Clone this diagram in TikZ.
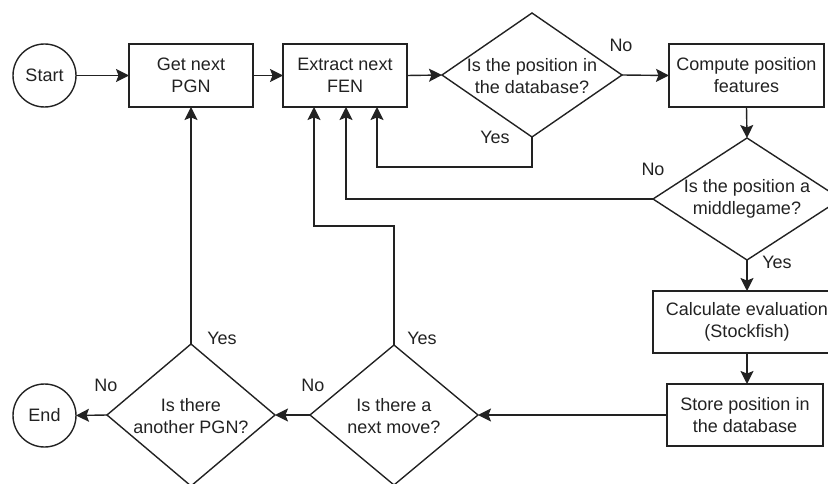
\documentclass[tikz,border=0pt]{standalone}
\usepackage{fontspec}
\setmainfont{Liberation Sans}
\usetikzlibrary{shapes.geometric,arrows.meta}
\definecolor{ink}{HTML}{222222}
\tikzset{
  base/.style={draw=ink, line width=1.4pt, outer sep=0pt, inner sep=0pt, text=ink,
    font=\fontsize{18}{22}\selectfont, align=center},
  proc/.style={base, rectangle, minimum height=63pt},
  term/.style={base, circle, minimum size=63pt},
  decide/.style={base, diamond},
  caption/.style={text=ink, font=\fontsize{18}{22}\selectfont, align=center, inner sep=0pt},
  flow/.style={draw=ink, line width=1.4pt, -{Stealth[length=13pt, width=13pt, inset=2.5pt]}}
}
\begin{document}
\begin{tikzpicture}[x=1pt, y=-1pt]
  \useasboundingbox (0,0) rectangle (828,484);
  \clip (0,0) rectangle (828,484);

  % terminals
  \node[term] (start) at (44.5,75.5) {Start};
  \node[term] (end) at (44.5,415.5) {End};

  % process boxes
  \node[proc, minimum width=124pt] (pgn) at (191,75.5) {Get next\\PGN};
  \node[proc, minimum width=124pt] (fen) at (345,75.5) {Extract next\\FEN};
  \node[proc, minimum width=155pt] (feat) at (746.5,75.5) {Compute position\\features};
  \node[proc, minimum width=188pt, minimum height=62pt] (calc) at (747,322) {Calculate evaluation\\(Stockfish)};
  \node[proc, minimum width=156pt, minimum height=62pt] (store) at (745,415) {Store position in\\the database};

  % decisions
  \node[decide, minimum width=180pt, minimum height=124pt] (indb) at (532,75) {};
  \node[caption] (indbt) at (532,76) {Is the position in\\the database?};
  \node[decide, minimum width=188pt, minimum height=122pt] (mid) at (747,199) {};
  \node[caption] (midt) at (747,199) {Is the position a\\middlegame?};
  \node[decide, minimum width=168pt, minimum height=140pt] (move) at (394,415) {};
  \node[caption] (movet) at (394,416) {Is there a\\next move?};
  \node[decide, minimum width=168pt, minimum height=142pt] (another) at (191,415) {};
  \node[caption] (anothert) at (191,416) {Is there\\another PGN?};

  % branch labels
  \node[caption] (noA) at (621,45) {No};
  \node[caption] (yesA) at (495,137) {Yes};
  \node[caption] (noB) at (653,169) {No};
  \node[caption] (yesB) at (777,262) {Yes};
  \node[caption] (yesC) at (422,338) {Yes};
  \node[caption] (noC) at (313,385) {No};
  \node[caption] (yesD) at (222,338) {Yes};
  \node[caption] (noD) at (106,385) {No};

  % main flow
  \draw[flow] (start.east) -- (pgn.west);
  \draw[flow] (pgn.east) -- (fen.west);
  \draw[flow] (fen.east) -- (indb.west);
  \draw[flow] (indb.east) -- (feat.west);
  \draw[flow] (feat.south) -- (mid.north);
  \draw[flow] (mid.south) -- (calc.north);
  \draw[flow] (calc.south) -- (calc.south |- store.north);
  \draw[flow] (store.west) -- (move.east);
  \draw[flow] (move.west) -- (another.east);
  \draw[flow] (another.west) -- (end.east);
  \draw[flow] (another.north) -- (pgn.south);

  % loops back to the FEN step
  \draw[flow] (indb.south) -- ++(0,30) -| ([xshift=32pt]fen.south);
  \draw[flow] (mid.west) -| ([xshift=1pt]fen.south);
  \draw[flow] (move.north) -- ++(0,-119) -| ([xshift=-31pt]fen.south);
\end{tikzpicture}
\end{document}
